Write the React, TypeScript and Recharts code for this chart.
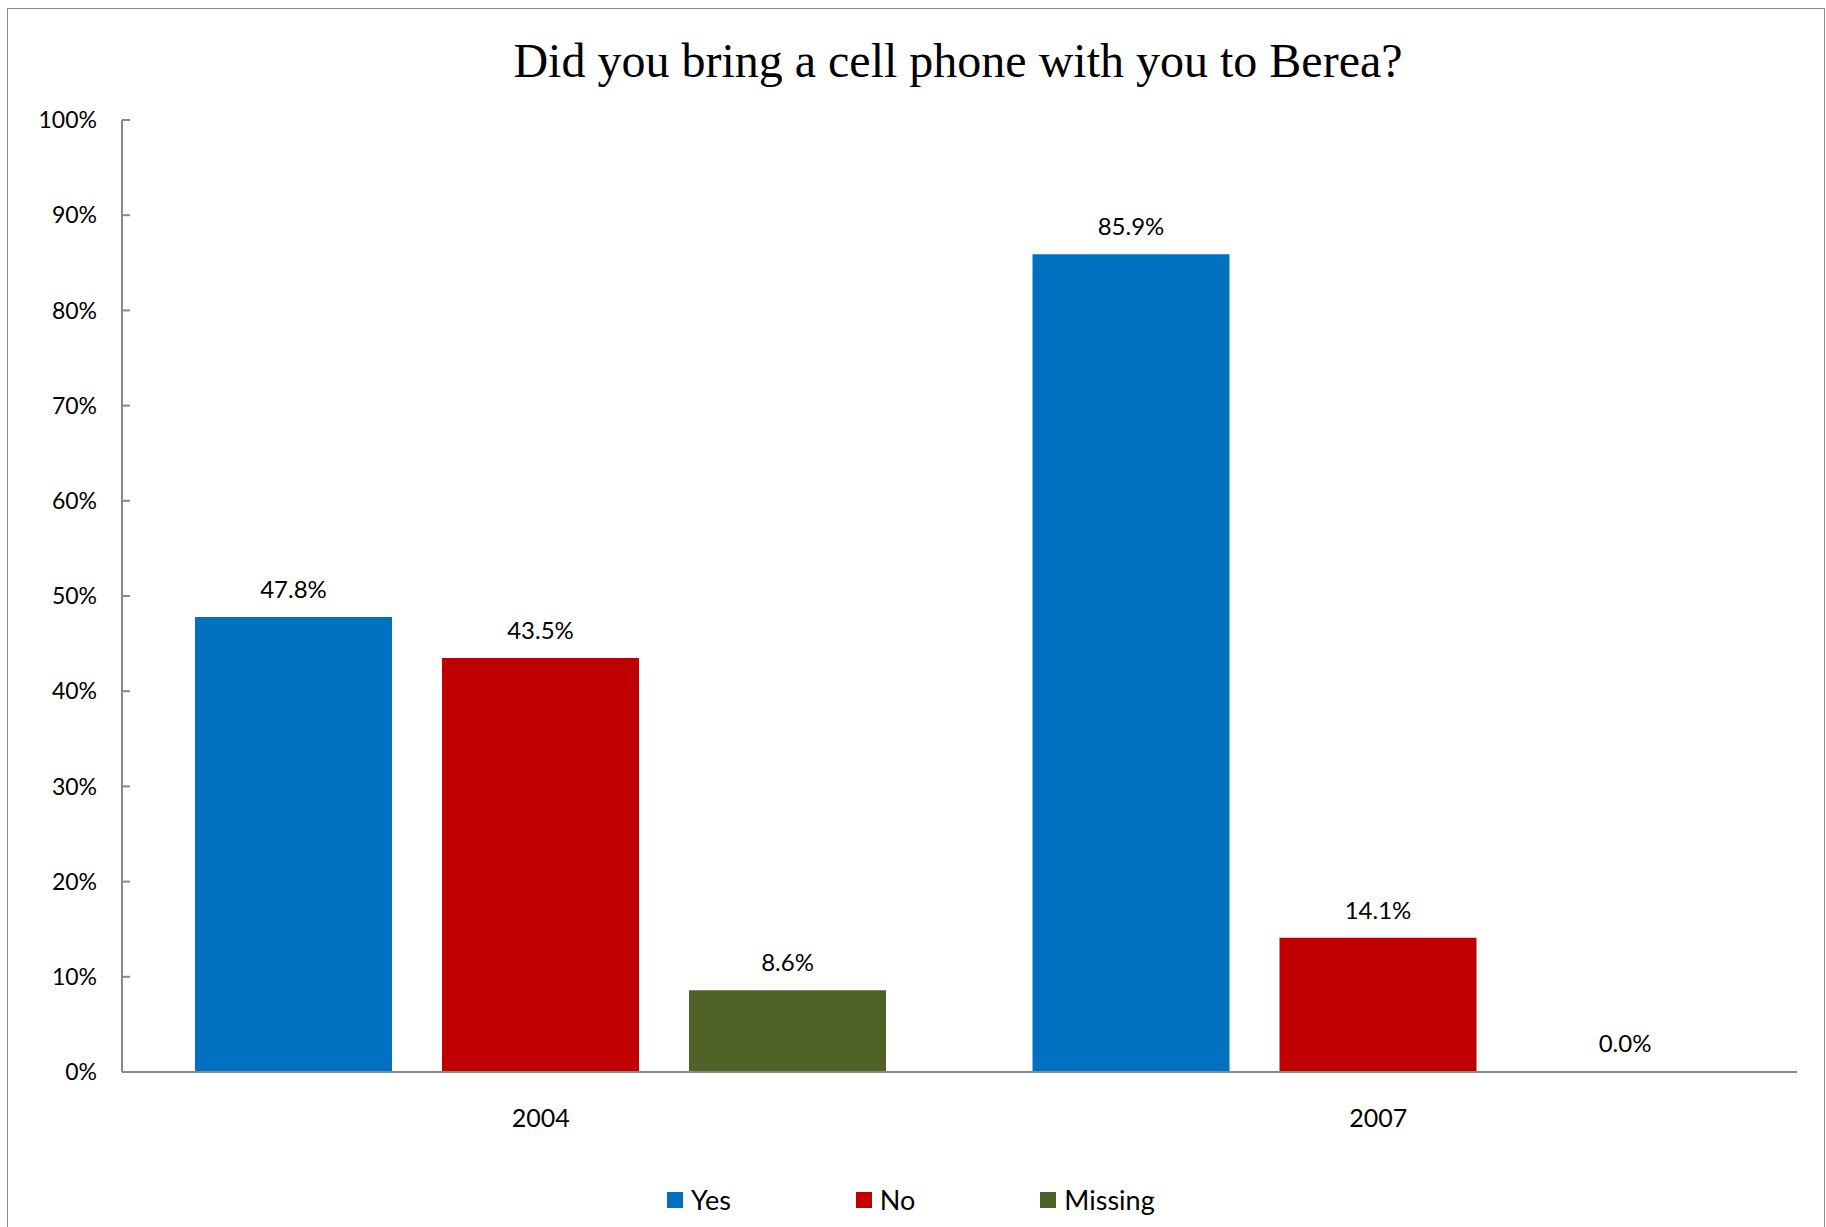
import { BarChart, Bar, XAxis, YAxis, Legend, LabelList, Rectangle } from 'recharts'

const years = ['2004', '2007']
const yesValues = [47.8, 85.9]
const noValues = [43.5, 14.1]
const missingValues = [8.6, 0.0]
const yTicks = [0, 10, 20, 30, 40, 50, 60, 70, 80, 90, 100]

const series = [
  { key: 'yes', name: 'Yes', color: '#0070C0' },
  { key: 'no', name: 'No', color: '#C00000' },
  { key: 'missing', name: 'Missing', color: '#4F6228' },
]

const chartData = years.map((year, i) => ({
  year,
  yes: yesValues[i],
  no: noValues[i],
  missing: missingValues[i],
}))

const FONT = 'Lato, "Open Sans", sans-serif'
const AXIS_GRAY = '#898989'

// legend drawn by recharts, laid out like the Excel one (series order kept)
function ExcelLegend(props: any) {
  const payload = [...(props.payload || [])].sort(
    (a: any, b: any) =>
      series.findIndex((s) => s.name === a.value) - series.findIndex((s) => s.name === b.value)
  )
  return (
    <div style={{ display: 'flex', paddingLeft: 667, fontFamily: FONT, fontSize: 27, color: '#000' }}>
      {payload.map((entry: any) => (
        <div key={entry.value} style={{ display: 'flex', alignItems: 'center', marginRight: 125 }}>
          <span style={{ width: 16, height: 16, background: entry.color, marginRight: 8, display: 'inline-block' }} />
          <span>{entry.value}</span>
        </div>
      ))}
    </div>
  )
}

// zero bars keep their slot (so the 0.0% label shows) but draw nothing
function BarShape(props: any) {
  if (props.value === 0 || (Array.isArray(props.value) && props.value[1] === 0)) return <g />
  return <Rectangle {...props} />
}

export default function App() {
  return (
    <div style={{ position: 'absolute', left: 0, top: 0, width: 1826, height: 1227, overflow: 'hidden', background: '#fff' }}>
      <div
        style={{
          position: 'absolute',
          left: 7,
          top: 8,
          width: 1816,
          height: 1400,
          border: '1px solid #8a8a8a',
        }}
      />
      <div
        style={{
          position: 'absolute',
          left: 0,
          width: 1916,
          top: 33,
          textAlign: 'center',
          fontFamily: '"Liberation Serif", "Times New Roman", serif',
          fontSize: 48,
          lineHeight: '56px',
          color: '#000',
        }}
      >
        Did you bring a cell phone with you to Berea?
      </div>
      <div style={{ position: 'absolute', left: 0, top: 0 }}>
        <BarChart
          width={1826}
          height={1227}
          data={chartData}
          margin={{ top: 120, right: 29, bottom: 0, left: 0 }}
          barCategoryGap={73}
          barGap={50}
        >
          <XAxis
            dataKey="year"
            height={155}
            axisLine={{ stroke: AXIS_GRAY, strokeWidth: 2 }}
            tickLine={false}
            tickSize={0}
            tickMargin={37}
            tick={{ fill: '#000', fontSize: 25, fontFamily: FONT }}
          />
          <YAxis
            width={122}
            domain={[0, 100]}
            ticks={yTicks}
            interval={0}
            tickFormatter={(v: number) => `${v}%`}
            axisLine={{ stroke: AXIS_GRAY, strokeWidth: 2 }}
            tickLine={{ stroke: AXIS_GRAY, strokeWidth: 2 }}
            tickSize={-8}
            tickMargin={33}
            tick={{ fill: '#000', fontSize: 23, fontFamily: FONT }}
          />
          <Legend
            layout="horizontal"
            verticalAlign="middle"
            align="center"
            wrapperStyle={{ top: 1183, left: 0, width: 1826 }}
            content={<ExcelLegend />}
          />
          {series.map((s) => (
            <Bar
              key={s.key}
              dataKey={s.key}
              name={s.name}
              fill={s.color}
              minPointSize={1}
              shape={<BarShape />}
              isAnimationActive={false}
            >
              <LabelList
                dataKey={s.key}
                position="top"
                offset={19}
                formatter={(v: any) => `${Number(v).toFixed(1)}%`}
                style={{ fill: '#000', fontSize: 24, fontFamily: FONT }}
              />
            </Bar>
          ))}
        </BarChart>
      </div>
    </div>
  )
}
